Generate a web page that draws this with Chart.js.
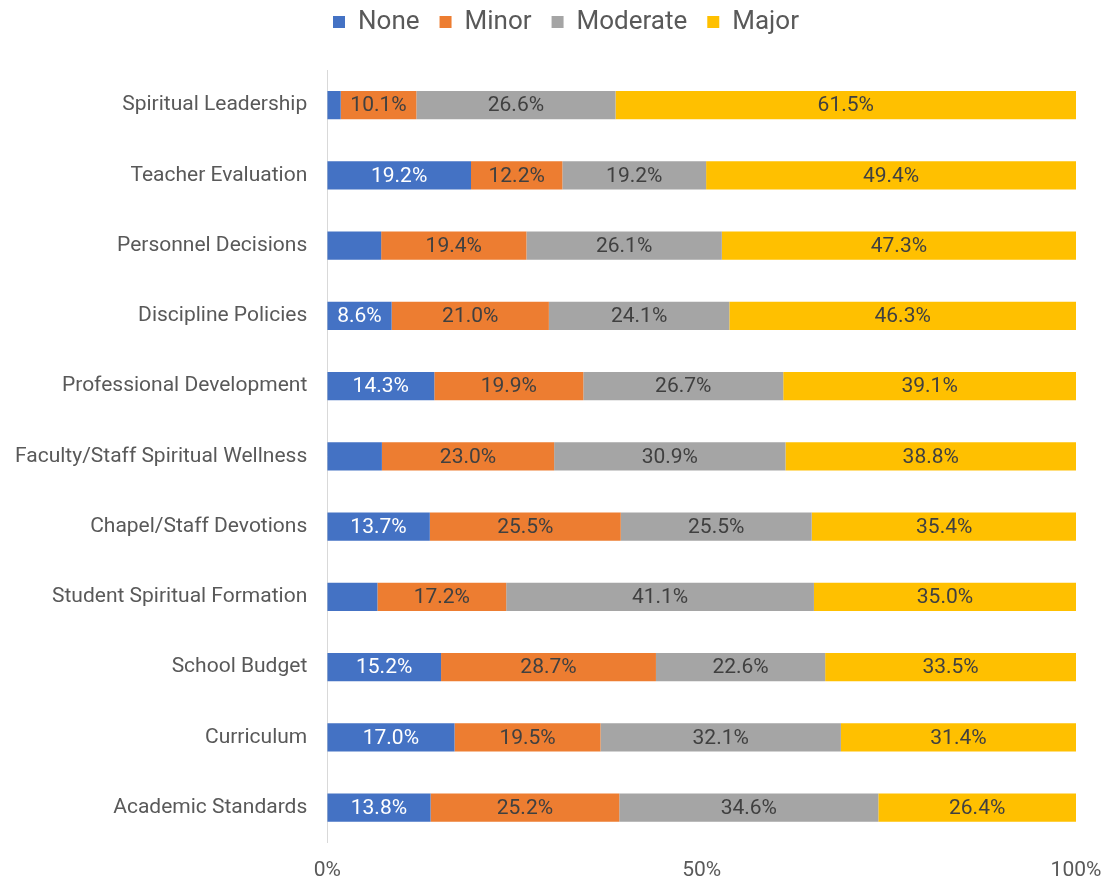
<!DOCTYPE html>
<html>
<head>
<meta charset="utf-8">
<script src="https://cdn.jsdelivr.net/npm/chart.js@4"></script>
<style>
  html, body { margin: 0; padding: 0; background: #fff; }
  #wrap { width: 1107px; height: 882px; position: relative; }
</style>
</head>
<body>
<div id="wrap"><canvas id="impactChart"></canvas></div>
<script>
// --- Data ---
const categories = [
    "Spiritual Leadership",
    "Teacher Evaluation",
    "Personnel Decisions",
    "Discipline Policies",
    "Professional Development",
    "Faculty/Staff Spiritual Wellness",
    "Chapel/Staff Devotions",
    "Student Spiritual Formation",
    "School Budget",
    "Curriculum",
    "Academic Standards",
];
const noneValues = [1.8, 19.2, 7.2, 8.6, 14.3, 7.3, 13.7, 6.7, 15.2, 17.0, 13.8];
const minorValues = [10.1, 12.2, 19.4, 21.0, 19.9, 23.0, 25.5, 17.2, 28.7, 19.5, 25.2];
const moderateValues = [26.6, 19.2, 26.1, 24.1, 26.7, 30.9, 25.5, 41.1, 22.6, 32.1, 34.6];
const majorValues = [61.5, 49.4, 47.3, 46.3, 39.1, 38.8, 35.4, 35.0, 33.5, 31.4, 26.4];
const xTicks = [0, 50, 100];

const FONT = "Roboto, 'Liberation Sans', sans-serif";
const MIN_LABEL_VALUE = 8; // segments narrower than this get no label

// --- Value labels drawn in the middle of each segment ---
const segmentLabels = {
    id: "segmentLabels",
    afterDatasetsDraw(chart) {
        const c = chart.ctx;
        c.save();
        c.font = "21px " + FONT;
        c.textAlign = "center";
        c.textBaseline = "middle";
        chart.data.datasets.forEach((ds, i) => {
            const meta = chart.getDatasetMeta(i);
            meta.data.forEach((bar, j) => {
                const v = ds.data[j];
                if (v < MIN_LABEL_VALUE) return;
                const mid = (bar.x + bar.base) / 2;
                c.fillStyle = ds.labelColor;
                c.fillText(v.toFixed(1) + "%", mid, bar.y + 1);
            });
        });
        c.restore();
    },
};

// --- Extra room under the legend, and nudge it a little right ---
const legendSpacing = {
    id: "legendSpacing",
    beforeInit(chart) {
        const fit = chart.legend.fit;
        chart.legend.fit = function () {
            fit.call(this);
            this.height += 25;
        };
    },
    afterLayout(chart) {
        chart.legend.left += 15;
        chart.legend.right += 15;
    },
};

function makeSet(label, data, color, labelColor) {
    return {
        label: label,
        data: data,
        backgroundColor: color,
        borderWidth: 0,
        barPercentage: 0.8,
        categoryPercentage: 0.5,
        labelColor: labelColor,
    };
}

function drawChart() {
    const ctx = document.getElementById("impactChart").getContext("2d");
    new Chart(ctx, {
        type: "bar",
        data: {
            labels: categories,
            datasets: [
                makeSet("None", noneValues, "#4472C4", "#ffffff"),
                makeSet("Minor", minorValues, "#ED7D31", "#404040"),
                makeSet("Moderate", moderateValues, "#A5A5A5", "#404040"),
                makeSet("Major", majorValues, "#FFC000", "#404040"),
            ],
        },
        options: {
            indexAxis: "y",
            responsive: true,
            maintainAspectRatio: false,
            animation: false,
            layout: { padding: { left: -5, right: 0, top: -11, bottom: -16 } },
            plugins: {
                legend: {
                    position: "top",
                    labels: {
                        font: { family: FONT, size: 26 },
                        color: "#595959",
                        boxWidth: 12,
                        boxHeight: 12,
                        padding: 20,
                    },
                },
                tooltip: { enabled: false },
            },
            scales: {
                x: {
                    stacked: true,
                    min: 0,
                    max: 100,
                    afterBuildTicks: (axis) => {
                        axis.ticks = xTicks.map((v) => ({ value: v }));
                    },
                    // room on the right only for half of the "100%" label
                    afterFit: (axis) => {
                        axis.paddingRight = 31;
                    },
                    grid: { display: false, drawTicks: false },
                    border: { display: false },
                    ticks: {
                        font: { family: FONT, size: 21 },
                        color: "#595959",
                        padding: 15,
                        callback: (v) => v + "%",
                    },
                },
                y: {
                    stacked: true,
                    grid: { display: false, drawTicks: false },
                    border: { display: true, color: "#d9d9d9", width: 1 },
                    ticks: {
                        font: { family: FONT, size: 21 },
                        color: "#595959",
                        padding: 20,
                    },
                },
            },
        },
        plugins: [segmentLabels, legendSpacing],
    });
}

// make sure Roboto is ready before Chart.js measures the labels
document.fonts.load("21px Roboto").then(drawChart, drawChart);
</script>
</body>
</html>
